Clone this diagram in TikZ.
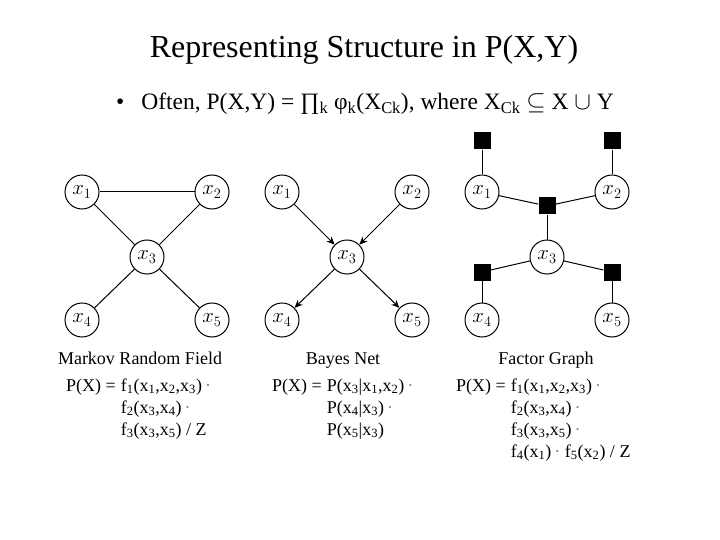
\documentclass[tikz,border=0pt]{standalone}
\usepackage{fontspec}
\setmainfont{Liberation Serif}
\usetikzlibrary{arrows.meta}
\newcommand{\sbs}[1]{\textsubscript{#1}}
\newcommand{\mdot}{{\color{gray}\,\textperiodcentered}}

\begin{document}
\begin{tikzpicture}[x=1pt, y=-1pt]
  \tikzstyle{var} = [circle, draw, line width = 1pt, inner sep = 0pt, minimum size = 34pt,
                     font = \fontsize{20.74}{24}\selectfont]
  \tikzstyle{factor} = [rectangle, fill = black, inner sep = 0pt, minimum size = 17pt]
  \tikzstyle{edge} = [line width = 1pt]
  \tikzstyle{arc} = [edge, -{Stealth[length = 8pt, width = 7pt]}]
  \tikzstyle{caption} = [anchor = base, font = \fontsize{18}{22}\selectfont]
  \tikzstyle{formula} = [anchor = base west, inner sep = 0pt, align = left,
                         font = \fontsize{18}{22}\selectfont]

  \useasboundingbox (0, 0) rectangle (720, 540);

  % Title and bullet
  \node[anchor = base, font = \fontsize{32}{38}\selectfont] (title) at (364, 58)
    {Representing Structure in P(X,Y)};
  \node[anchor = base west, inner sep = 0pt, font = \fontsize{23.5}{28}\selectfont] (bullet) at (116, 110)
    {\textbullet\hspace{17pt}Often, P(X,Y) = ∏\sbs{k} φ\sbs{k}(X\sbs{Ck}), where X\sbs{Ck} $\subseteq$ X $\cup$ Y};

  % Draw variable nodes of the three graphs
  \foreach \g/\ox in {mrf/82, bn/282, fg/482}
    \foreach \i/\dx/\y in {1/0/192, 2/130/192, 3/65/257, 4/0/320, 5/130/320}
      \node[var] (\g\i) at (\ox + \dx, \y) {$x_{\i}$};

  % Draw factor nodes
  \node[factor] (fa) at (482, 141) {};
  \node[factor] (fb) at (612, 141) {};
  \node[factor] (fc) at (547, 206) {};
  \node[factor] (fd) at (482, 272) {};
  \node[factor] (fe) at (612, 272) {};

  % Markov random field
  \draw[edge] (mrf1) -- (mrf2);
  \foreach \i in {1, 2, 4, 5}
    \draw[edge] (mrf3) -- (mrf\i);

  % Bayes net
  \draw[arc] (bn1) -- (bn3);
  \draw[arc] (bn2) -- (bn3);
  \draw[arc] (bn3) -- (bn4);
  \draw[arc] (bn3) -- (bn5);

  % Factor graph
  \draw[edge] (fa) -- (fg1);
  \draw[edge] (fb) -- (fg2);
  \foreach \i in {1, 2, 3}
    \draw[edge] (fc) -- (fg\i);
  \draw[edge] (fd) -- (fg3);
  \draw[edge] (fd) -- (fg4);
  \draw[edge] (fe) -- (fg3);
  \draw[edge] (fe) -- (fg5);

  % Captions
  \node[caption] (mrfName) at (140, 364) {Markov Random Field};
  \node[caption] (bnName) at (343, 364) {Bayes Net};
  \node[caption] (fgName) at (546, 364) {Factor Graph};

  % Formulas
  \node[formula] (mrfEq) at (66, 391)
    {\begin{tabular}[t]{@{}l@{\hspace{5pt}}l@{}}
      P(X) = & f\sbs{1}(x\sbs{1},x\sbs{2},x\sbs{3})\mdot \\
             & f\sbs{2}(x\sbs{3},x\sbs{4})\mdot \\
             & f\sbs{3}(x\sbs{3},x\sbs{5}) / Z
     \end{tabular}};
  \node[formula] (bnEq) at (272, 391)
    {\begin{tabular}[t]{@{}l@{\hspace{5pt}}l@{}}
      P(X) = & P(x\sbs{3}|x\sbs{1},x\sbs{2})\mdot \\
             & P(x\sbs{4}|x\sbs{3})\mdot \\
             & P(x\sbs{5}|x\sbs{3})
     \end{tabular}};
  \node[formula] (fgEq) at (456, 391)
    {\begin{tabular}[t]{@{}l@{\hspace{5pt}}l@{}}
      P(X) = & f\sbs{1}(x\sbs{1},x\sbs{2},x\sbs{3})\mdot \\
             & f\sbs{2}(x\sbs{3},x\sbs{4})\mdot \\
             & f\sbs{3}(x\sbs{3},x\sbs{5})\mdot \\
             & f\sbs{4}(x\sbs{1})\mdot\ f\sbs{5}(x\sbs{2}) / Z
     \end{tabular}};

\end{tikzpicture}
\end{document}
